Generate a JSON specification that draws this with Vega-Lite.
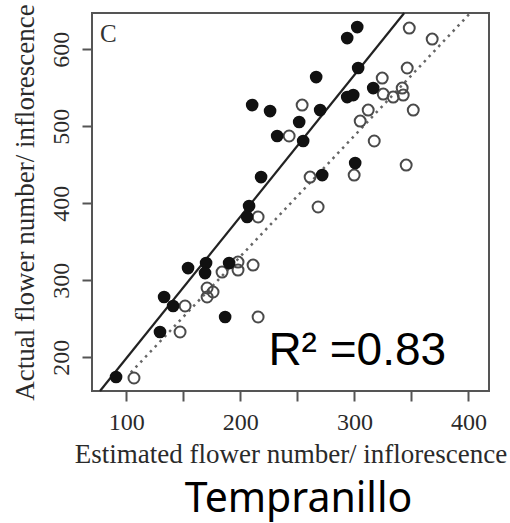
{
  "$schema": "https://vega.github.io/schema/vega-lite/v6.json",
  "width": 397,
  "height": 378,
  "autosize": {"type": "none"},
  "padding": {"left": 92, "top": 13, "right": 21, "bottom": 132},
  "background": "white",
  "title": {
    "text": "Tempranillo",
    "orient": "bottom",
    "anchor": "middle",
    "font": "Noto Sans",
    "fontSize": 41,
    "fontWeight": "normal",
    "color": "#000000",
    "offset": 13,
    "dx": 8
  },
  "config": {
    "view": {"stroke": "#555555", "strokeWidth": 2},
    "axis": {
      "domain": false,
      "grid": false,
      "tickColor": "#555555",
      "tickWidth": 2,
      "tickSize": 10,
      "labelFont": "Liberation Serif",
      "labelFontSize": 24,
      "labelColor": "#2a2a2a",
      "titleFont": "Liberation Serif",
      "titleFontSize": 27,
      "titleFontWeight": "normal",
      "titleColor": "#2a2a2a"
    }
  },
  "datasets": {
    "points": [
      {"est": 91.1, "act": 174.2, "group": "filled"},
      {"est": 129.6, "act": 232.6, "group": "filled"},
      {"est": 133.2, "act": 278.1, "group": "filled"},
      {"est": 141.1, "act": 266.4, "group": "filled"},
      {"est": 154.2, "act": 315.7, "group": "filled"},
      {"est": 170.0, "act": 322.2, "group": "filled"},
      {"est": 169.1, "act": 309.2, "group": "filled"},
      {"est": 190.2, "act": 322.2, "group": "filled"},
      {"est": 186.7, "act": 252.1, "group": "filled"},
      {"est": 207.7, "act": 396.3, "group": "filled"},
      {"est": 206.0, "act": 382.0, "group": "filled"},
      {"est": 218.2, "act": 433.9, "group": "filled"},
      {"est": 210.4, "act": 527.4, "group": "filled"},
      {"est": 226.1, "act": 519.6, "group": "filled"},
      {"est": 232.3, "act": 487.2, "group": "filled"},
      {"est": 251.6, "act": 505.4, "group": "filled"},
      {"est": 255.1, "act": 480.7, "group": "filled"},
      {"est": 266.5, "act": 563.8, "group": "filled"},
      {"est": 270.0, "act": 520.9, "group": "filled"},
      {"est": 271.8, "act": 436.5, "group": "filled"},
      {"est": 293.7, "act": 614.4, "group": "filled"},
      {"est": 302.5, "act": 628.7, "group": "filled"},
      {"est": 303.3, "act": 575.5, "group": "filled"},
      {"est": 293.7, "act": 537.8, "group": "filled"},
      {"est": 299.0, "act": 540.4, "group": "filled"},
      {"est": 316.5, "act": 549.5, "group": "filled"},
      {"est": 300.7, "act": 452.1, "group": "filled"},
      {"est": 106.8, "act": 172.9, "group": "open"},
      {"est": 147.2, "act": 232.6, "group": "open"},
      {"est": 151.6, "act": 266.4, "group": "open"},
      {"est": 170.9, "act": 289.8, "group": "open"},
      {"est": 176.1, "act": 284.6, "group": "open"},
      {"est": 170.9, "act": 278.1, "group": "open"},
      {"est": 184.0, "act": 310.5, "group": "open"},
      {"est": 198.0, "act": 323.5, "group": "open"},
      {"est": 198.0, "act": 313.1, "group": "open"},
      {"est": 211.2, "act": 319.6, "group": "open"},
      {"est": 215.6, "act": 252.1, "group": "open"},
      {"est": 215.6, "act": 382.0, "group": "open"},
      {"est": 242.8, "act": 487.2, "group": "open"},
      {"est": 254.2, "act": 527.4, "group": "open"},
      {"est": 261.2, "act": 433.9, "group": "open"},
      {"est": 268.2, "act": 395.0, "group": "open"},
      {"est": 299.8, "act": 436.5, "group": "open"},
      {"est": 345.4, "act": 449.5, "group": "open"},
      {"est": 317.4, "act": 480.7, "group": "open"},
      {"est": 305.1, "act": 506.6, "group": "open"},
      {"est": 312.1, "act": 520.9, "group": "open"},
      {"est": 351.6, "act": 520.9, "group": "open"},
      {"est": 324.4, "act": 562.5, "group": "open"},
      {"est": 325.3, "act": 541.7, "group": "open"},
      {"est": 334.0, "act": 537.8, "group": "open"},
      {"est": 341.9, "act": 549.5, "group": "open"},
      {"est": 342.8, "act": 540.4, "group": "open"},
      {"est": 346.3, "act": 575.5, "group": "open"},
      {"est": 348.1, "act": 627.4, "group": "open"},
      {"est": 368.2, "act": 613.1, "group": "open"}
    ],
    "lines": [
      {"est": 77.0, "act": 156.0, "line": "filled fit"},
      {"est": 343.7, "act": 647.0, "line": "filled fit"},
      {"est": 104.0, "act": 180.0, "line": "open fit"},
      {"est": 401.6, "act": 647.0, "line": "open fit"}
    ],
    "labels": [
      {"est": 302.5, "act": 189.8, "text": "R² =0.83", "kind": "r2"},
      {"est": 77.0, "act": 609.0, "text": "C", "kind": "panel"}
    ]
  },
  "encoding": {
    "x": {
      "field": "est",
      "type": "quantitative",
      "scale": {"domain": [70, 418], "nice": false, "zero": false},
      "axis": {
        "title": "Estimated flower number/ inflorescence",
        "values": [100, 150, 200, 250, 300, 350, 400],
        "labelExpr": "datum.value % 100 == 0 ? datum.label : ''",
        "labelPadding": 9,
        "titlePadding": 7
      }
    },
    "y": {
      "field": "act",
      "type": "quantitative",
      "scale": {"domain": [156, 647], "nice": false, "zero": false},
      "axis": {
        "title": "Actual flower number/ inflorescence",
        "values": [200, 300, 400, 500, 600],
        "labelAngle": -90,
        "labelAlign": "center",
        "labelBaseline": "bottom",
        "labelPadding": 9,
        "titlePadding": 10
      }
    }
  },
  "layer": [
    {
      "data": {"name": "lines"},
      "transform": [{"filter": "datum.line == 'filled fit'"}],
      "mark": {"type": "line", "color": "#222222", "strokeWidth": 2.2},
      "encoding": {"detail": {"field": "line"}}
    },
    {
      "data": {"name": "lines"},
      "transform": [{"filter": "datum.line == 'open fit'"}],
      "mark": {"type": "line", "color": "#666666", "strokeWidth": 2.5, "strokeDash": [2.5, 4.5]},
      "encoding": {"detail": {"field": "line"}}
    },
    {
      "data": {"name": "points"},
      "transform": [{"filter": "datum.group == 'open'"}],
      "mark": {"type": "point", "shape": "circle", "filled": false, "size": 120, "stroke": "#4a4a4a", "strokeWidth": 2, "opacity": 1}
    },
    {
      "data": {"name": "points"},
      "transform": [{"filter": "datum.group == 'filled'"}],
      "mark": {"type": "circle", "size": 160, "color": "#111111", "opacity": 1}
    },
    {
      "data": {"name": "labels"},
      "transform": [{"filter": "datum.kind == 'r2'"}],
      "mark": {"type": "text", "font": "Liberation Sans", "fontSize": 46, "align": "center", "baseline": "alphabetic", "color": "#000000"},
      "encoding": {"text": {"field": "text"}}
    },
    {
      "data": {"name": "labels"},
      "transform": [{"filter": "datum.kind == 'panel'"}],
      "mark": {"type": "text", "font": "Liberation Serif", "fontSize": 25, "align": "left", "baseline": "alphabetic", "color": "#333333"},
      "encoding": {"text": {"field": "text"}}
    }
  ]
}
